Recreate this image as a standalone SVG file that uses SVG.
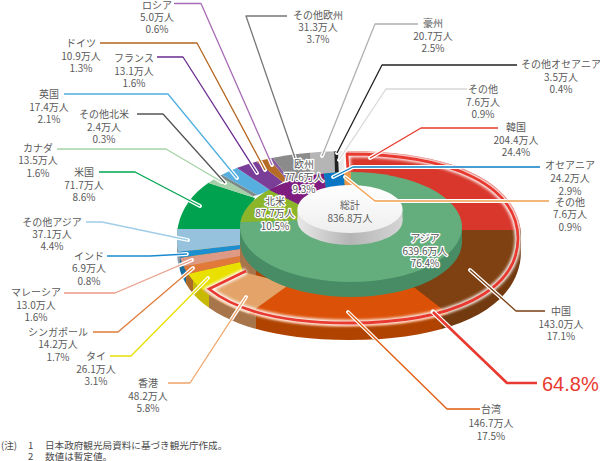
<svg xmlns="http://www.w3.org/2000/svg" xmlns:xlink="http://www.w3.org/1999/xlink" width="600" height="461" viewBox="0 0 600 461">
<style>
text{font-family:"Noto Sans CJK JP","Noto Sans",sans-serif;font-size:10px;fill:#5a5a5a;text-anchor:middle}
.h text{stroke:#fff;stroke-width:2.6px;paint-order:stroke;fill:#555;stroke-linejoin:round}
.note{font-size:9.6px;text-anchor:start;fill:#4a4a4a}
.big{font-family:"Liberation Sans",sans-serif;font-size:20px;fill:#e83a30;text-anchor:start}
.c use{fill:none;stroke-width:1.3;stroke-linejoin:round}
.halo use{fill:none;stroke:#fff;stroke-width:3.8;stroke-linecap:round;stroke-linejoin:round}
</style>
<defs>
<path id="rim" d="M177,238C177,184 242,151 349,151C456,151 521,184 521,238C521,293 456,327 349,327C242,327 177,293 177,238Z"/>
<clipPath id="rimC"><use href="#rim"/></clipPath>
<clipPath id="pieC"><use href="#rim"/><use href="#rim" y="13"/></clipPath>
<clipPath id="midC"><ellipse cx="351" cy="227" rx="111" ry="55"/></clipPath>
<filter id="b" x="-10%" y="-10%" width="120%" height="120%"><feGaussianBlur stdDeviation="1.4"/></filter>
<linearGradient id="cyl" x1="0" x2="1" y1="0" y2="0"><stop offset="0" stop-color="#e8e8e8"/><stop offset=".5" stop-color="#b5b5b5"/><stop offset="1" stop-color="#d5d5d5"/></linearGradient>
<linearGradient id="cylTop" x1="0" x2="0" y1="0" y2="1"><stop offset="0" stop-color="#fff"/><stop offset="1" stop-color="#eee"/></linearGradient>
<polyline id="l1" points="174,3.500 201,3.500 272,165"/>
<polyline id="l2" points="100,43 197,43 265,170"/>
<polyline id="l3" points="157,57 183,57 257,173"/>
<polyline id="l4" points="64,94 168,94 237,178"/>
<polyline id="l5" points="137,114 163,114 225,183"/>
<polyline id="l6" points="57,149 166,149 222,182"/>
<polyline id="l7" points="99,172 135,172 200,206"/>
<polyline id="l8" points="86,222 102,222 188,240"/>
<polyline id="l9" points="107,256 150,256 187,254"/>
<polyline id="l10" points="64,293 115,293 192,260"/>
<polyline id="l11" points="93,332 118,332 193,268"/>
<polyline id="l12" points="110,356 131,356 208,278"/>
<polyline id="l13" points="168,383 190,383 246,297"/>
<polyline id="l14" points="480,409 447,409 348,312"/>
<polyline id="l15" points="537,383 507,383 433,312"/>
<polyline id="l16" points="545,311 516,311 470,270"/>
<polyline id="l17" points="498,128 421,128 370,158"/>
<polyline id="l18" points="540,167 353,167 333,177"/>
<polyline id="l19" points="549,201 375,201 345,177"/>
<polyline id="l20" points="467,89 386,89 339,160"/>
<polyline id="l21" points="517,65 382,65 337,153"/>
<polyline id="l22" points="418,24 375,24 322,156"/>
<polyline id="l23" points="287,16 246,16 295,158"/>
</defs>

<g id="pie-side" clip-path="url(#pieC)">
<rect x="170" y="225" width="10" height="120" fill="#8a9aa5"/>
<rect x="180" y="225" width="6" height="120" fill="#1a6f9e"/>
<rect x="186" y="225" width="7" height="120" fill="#a96a2a"/>
<rect x="193" y="225" width="16" height="120" fill="#c7b900"/>
<rect x="209" y="225" width="47" height="120" fill="#a8744a"/>
<rect x="256" y="225" width="186" height="120" fill="#b04300"/>
<rect x="442" y="225" width="85" height="120" fill="#733a10"/>
</g>

<g id="pie-top" clip-path="url(#rimC)">
<polygon fill="#d9372c" points="347,230 347,140 540,140 540,230"/>
<polygon fill="#7f4012" points="350,230 540,230 540,340 470,331 415,288"/>
<polygon fill="#dc5108" points="415,288 470,331 470,345 240,345 240,320 290,284"/>
<polygon fill="#e4a469" points="290,284 240,320 240,345 170,345 190,296 243,272"/>
<polygon fill="#e9e000" points="243,272 190,296 170,278 240,262"/>
<polygon fill="#e0793a" points="240,262 170,278 165,270 240,256"/>
<polygon fill="#df9a85" points="240,256 165,270 165,260 240,249"/>
<polygon fill="#1c8fd0" points="240,249 165,260 160,254 240,245"/>
<polygon fill="#96c2dd" points="240,245 160,254 160,229 240,229"/>
<polygon fill="#00a14f" points="240,229 160,229 160,160 190,177 255,198"/>
<polygon fill="#a5cfa8" points="255,198 190,177 205,168 253,196"/>
<polygon fill="#7d8a8a" points="253,196 205,168 210,168 258,195"/>
<polygon fill="#57afdf" points="258,195 210,168 225,160 270,190"/>
<polygon fill="#7a3d98" points="270,190 225,160 245,153 283,182"/>
<polygon fill="#b56c26" points="283,182 245,153 262,150 287,180"/>
<polygon fill="#8a5aa0" points="287,180 262,150 265,148 290,180"/>
<polygon fill="#8b8b8b" points="290,180 265,148 310,145 310,175"/>
<polygon fill="#b5b5b5" points="310,175 310,145 334,145 335,175"/>
<polygon fill="#222" points="335,175 334,145 338,145 339,175"/>
<polygon fill="#e8e8e8" points="339,175 338,145 344,145 345,175"/>
<polygon fill="#fff" points="345,175 344,145 347,145 347,175"/>
</g>

<g id="highlight" clip-path="url(#pieC)" fill="none">
<path d="M348,171L347,154C453,154 517,186 518,238C518,291 453,323 349,323C285.4,323 237.6,311.500 209,289L246,271" stroke="#fff" stroke-width="6" filter="url(#b)"/>
</g>
<path d="M348,171L347,154C453,154 517,186 518,238C518,291 453,323 349,323C285.4,323 237.6,311.500 209,289L246,271" fill="none" stroke="#e83a30" stroke-width="2.800" stroke-linejoin="miter"/>

<g id="ring-mid">
<ellipse cx="351" cy="242" rx="111" ry="55" fill="#478c64"/>
<rect x="240" y="227" width="222" height="15" fill="#478c64"/>
<ellipse cx="351" cy="227" rx="111" ry="55" fill="#63ae7c"/>
<g clip-path="url(#midC)">
<polygon fill="#8cb52a" points="300,220 230,222.500 230,180 255,183 300,205"/>
<polygon fill="#7f1c80" points="300,220 300,205 255,183 255,160 322,160 327,195"/>
<polygon fill="#0a76c4" points="327,195 322,160 343,160 345,190"/>
<polygon fill="#ed9a4c" points="345,190 343,160 351,160 351,190"/>
</g>
</g>

<g id="centre">
<ellipse cx="350" cy="221" rx="52.500" ry="24" fill="url(#cyl)"/>
<rect x="297.500" y="209" width="105" height="12" fill="url(#cyl)"/>
<ellipse cx="350" cy="209" rx="52.500" ry="24" fill="url(#cylTop)"/>
</g>

<g id="connectors" class="c">
<g class="halo" clip-path="url(#pieC)">
<use href="#l1"/><use href="#l2"/><use href="#l3"/><use href="#l4"/><use href="#l5"/><use href="#l6"/><use href="#l7"/><use href="#l8"/><use href="#l9"/><use href="#l10"/><use href="#l11"/><use href="#l12"/><use href="#l13"/><use href="#l14"/><use href="#l15" style="stroke-width:5"/><use href="#l16"/><use href="#l17"/><use href="#l18"/><use href="#l19"/><use href="#l20"/><use href="#l21"/><use href="#l22"/><use href="#l23"/>
</g>
<use href="#l1" stroke="#a86bb5"/>
<use href="#l2" stroke="#b4651e"/>
<use href="#l3" stroke="#6a2d90"/>
<use href="#l4" stroke="#4fb0e0"/>
<use href="#l5" stroke="#555"/>
<use href="#l6" stroke="#a5d3a5"/>
<use href="#l7" stroke="#00a550"/>
<use href="#l8" stroke="#a0cde8"/>
<use href="#l9" stroke="#1a8ad0"/>
<use href="#l10" stroke="#eb9b85"/>
<use href="#l11" stroke="#e07b39"/>
<use href="#l12" stroke="#e8e000"/>
<use href="#l13" stroke="#f0a468"/>
<use href="#l14" stroke="#e05a0c"/>
<use href="#l15" stroke="#e83a30" style="stroke-width:2.600"/>
<use href="#l16" stroke="#7a3f12"/>
<use href="#l17" stroke="#e8392b"/>
<use href="#l18" stroke="#0a7fc4"/>
<use href="#l19" stroke="#f0a050"/>
<use href="#l20" stroke="#d8d8d8"/>
<use href="#l21" stroke="#222"/>
<use href="#l22" stroke="#b0b0b0"/>
<use href="#l23" stroke="#777"/>
</g>

<g id="n-russia"><text x="157" y="8.500">ロシア</text><text x="157" y="21">5.0万人</text><text x="157" y="33">0.6%</text></g>
<g id="n-oeu"><text x="318" y="19">その他欧州</text><text x="318" y="31">31.3万人</text><text x="318" y="43">3.7%</text></g>
<g id="n-aus"><text x="433" y="27">豪州</text><text x="433" y="40">20.7万人</text><text x="433" y="52">2.5%</text></g>
<g id="n-ooc"><text x="561" y="68">その他オセアニア</text><text x="561" y="81">3.5万人</text><text x="561" y="93">0.4%</text></g>
<g id="n-other1"><text x="483" y="93">その他</text><text x="483" y="106">7.6万人</text><text x="483" y="118">0.9%</text></g>
<g id="n-korea"><text x="516" y="131">韓国</text><text x="516" y="144">204.4万人</text><text x="516" y="156">24.4%</text></g>
<g id="n-oceania"><text x="570" y="169">オセアニア</text><text x="570" y="182">24.2万人</text><text x="570" y="195">2.9%</text></g>
<g id="n-other2"><text x="570" y="206">その他</text><text x="570" y="218">7.6万人</text><text x="570" y="231">0.9%</text></g>
<g id="n-china"><text x="561" y="315">中国</text><text x="561" y="328">143.0万人</text><text x="561" y="340">17.1%</text></g>
<g id="n-share"><text class="big" x="542" y="391">64.8%</text></g>
<g id="n-taiwan"><text x="491" y="413">台湾</text><text x="491" y="427">146.7万人</text><text x="491" y="440">17.5%</text></g>
<g id="n-hk"><text x="148" y="387">香港</text><text x="148" y="400">48.2万人</text><text x="148" y="412">5.8%</text></g>
<g id="n-thai"><text x="96" y="360">タイ</text><text x="96" y="373">26.1万人</text><text x="96" y="385">3.1%</text></g>
<g id="n-sing"><text x="58" y="336">シンガポール</text><text x="58" y="348">14.2万人</text><text x="58" y="361">1.7%</text></g>
<g id="n-mala"><text x="36" y="296">マレーシア</text><text x="36" y="309">13.0万人</text><text x="36" y="321">1.6%</text></g>
<g id="n-india"><text x="89" y="260">インド</text><text x="89" y="272">6.9万人</text><text x="89" y="285">0.8%</text></g>
<g id="n-oasia"><text x="52" y="226">その他アジア</text><text x="52" y="238">37.1万人</text><text x="52" y="250">4.4%</text></g>
<g id="n-us"><text x="84" y="176">米国</text><text x="84" y="189">71.7万人</text><text x="84" y="201">8.6%</text></g>
<g id="n-canada"><text x="38" y="152">カナダ</text><text x="38" y="164">13.5万人</text><text x="38" y="177">1.6%</text></g>
<g id="n-ona"><text x="104" y="118">その他北米</text><text x="104" y="131">2.4万人</text><text x="104" y="143">0.3%</text></g>
<g id="n-uk"><text x="49" y="98">英国</text><text x="49" y="111">17.4万人</text><text x="49" y="123">2.1%</text></g>
<g id="n-france"><text x="134" y="62">フランス</text><text x="134" y="75">13.1万人</text><text x="134" y="87">1.6%</text></g>
<g id="n-germany"><text x="81" y="47">ドイツ</text><text x="81" y="60">10.9万人</text><text x="81" y="72">1.3%</text></g>
<g id="n-europe" class="h"><text x="304" y="168">欧州</text><text x="304" y="181">77.6万人</text><text x="304" y="193">9.3%</text></g>
<g id="n-na" class="h"><text x="275" y="205">北米</text><text x="275" y="217">87.7万人</text><text x="275" y="230">10.5%</text></g>
<g id="n-asia" class="h"><text x="425" y="242">アジア</text><text x="425" y="255">639.6万人</text><text x="425" y="267">76.4%</text></g>
<g id="n-total"><text x="350" y="209">総計</text><text x="350" y="222">836.8万人</text></g>
<g id="notes"><text class="note" x="1" y="448.500">(注)</text><text class="note" x="28" y="448.500">1</text><text class="note" x="45" y="448.500">日本政府観光局資料に基づき観光庁作成。</text><text class="note" x="28" y="460">2</text><text class="note" x="45" y="460">数値は暫定値。</text></g>
</svg>
